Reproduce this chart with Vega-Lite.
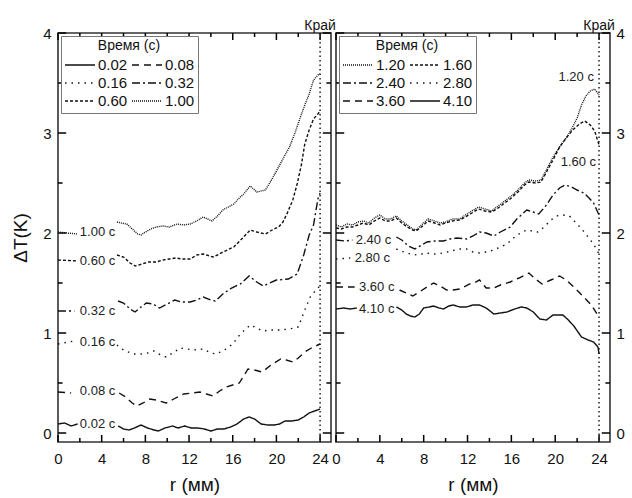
{
"$schema": "https://vega.github.io/schema/vega-lite/v6.json",
"padding": {"left": 10, "top": 18, "right": 3, "bottom": 5},
"background": "white",
"config": {
  "font": "Liberation Sans",
  "view": {"stroke": "#333", "strokeWidth": 1.6},
  "axis": {"domain": false, "grid": false, "ticks": false, "labelColor": "#111", "titleColor": "#111", "labelFontSize": 15, "titleFontSize": 19, "titleFontWeight": "normal", "labelFont": "Liberation Sans", "titleFont": "Liberation Sans", "labelFlush": false, "labelOverlap": false, "format": "d"},
  "legend": {"orient": "top-left", "offset": 3, "padding": 3, "strokeColor": "#777", "fillColor": "white", "columns": 2, "columnPadding": 3, "rowPadding": 0, "symbolType": "stroke", "symbolSize": 900, "symbolStrokeWidth": 1.3, "symbolStrokeColor": "#111", "clipHeight": 18, "labelFontSize": 15, "labelColor": "#111", "titleFontSize": 14, "titleFontWeight": "normal", "titleColor": "#111", "titleAnchor": "middle", "titlePadding": 3, "labelOffset": 2, "labelFont": "Liberation Sans", "titleFont": "Liberation Sans"}
},
"datasets": {
  "xmaj": [{"v": 0}, {"v": 4}, {"v": 8}, {"v": 12}, {"v": 16}, {"v": 20}, {"v": 24}],
  "xmin": [{"v": 2}, {"v": 6}, {"v": 10}, {"v": 14}, {"v": 18}, {"v": 22}],
  "ymaj": [{"v": 0}, {"v": 1}, {"v": 2}, {"v": 3}, {"v": 4}],
  "ymin": [{"v": 0.5}, {"v": 1.5}, {"v": 2.5}, {"v": 3.5}],
  "edge": [{"r": 24, "T": 4, "txt": "Край"}],
  "labels": [
    {"p": "L", "r": 2.0, "T": 2.01, "txt": "1.00 с"},
    {"p": "L", "r": 2.0, "T": 1.72, "txt": "0.60 с"},
    {"p": "L", "r": 2.0, "T": 1.22, "txt": "0.32 с"},
    {"p": "L", "r": 2.0, "T": 0.91, "txt": "0.16 с"},
    {"p": "L", "r": 2.0, "T": 0.42, "txt": "0.08 с"},
    {"p": "L", "r": 2.0, "T": 0.09, "txt": "0.02 с"},
    {"p": "R", "r": 1.8, "T": 1.93, "txt": "2.40 с"},
    {"p": "R", "r": 1.7, "T": 1.75, "txt": "2.80 с"},
    {"p": "R", "r": 2.1, "T": 1.46, "txt": "3.60 с"},
    {"p": "R", "r": 2.1, "T": 1.24, "txt": "4.10 с"},
    {"p": "R", "r": 20.3, "T": 3.56, "txt": "1.20 с"},
    {"p": "R", "r": 20.5, "T": 2.71, "txt": "1.60 с"}
  ],
  "lines": [
    {"p":"L","t":"0.02","g":"a","r":0,"T":0.09},{"p":"L","t":"0.02","g":"a","r":0.6,"T":0.10},{"p":"L","t":"0.02","g":"a","r":1.2,"T":0.07},{"p":"L","t":"0.02","g":"a","r":1.8,"T":0.09},
    {"p":"L","t":"0.02","g":"b","r":5.5,"T":0.07},{"p":"L","t":"0.02","g":"b","r":6.0,"T":0.04},{"p":"L","t":"0.02","g":"b","r":6.5,"T":0.03},{"p":"L","t":"0.02","g":"b","r":7.0,"T":0.05},{"p":"L","t":"0.02","g":"b","r":7.6,"T":0.08},{"p":"L","t":"0.02","g":"b","r":8.2,"T":0.05},{"p":"L","t":"0.02","g":"b","r":8.8,"T":0.03},{"p":"L","t":"0.02","g":"b","r":9.2,"T":0.02},{"p":"L","t":"0.02","g":"b","r":9.8,"T":0.05},{"p":"L","t":"0.02","g":"b","r":10.5,"T":0.07},{"p":"L","t":"0.02","g":"b","r":11.0,"T":0.05},{"p":"L","t":"0.02","g":"b","r":11.6,"T":0.07},{"p":"L","t":"0.02","g":"b","r":12.2,"T":0.05},{"p":"L","t":"0.02","g":"b","r":12.8,"T":0.05},{"p":"L","t":"0.02","g":"b","r":13.4,"T":0.04},{"p":"L","t":"0.02","g":"b","r":14.0,"T":0.02},{"p":"L","t":"0.02","g":"b","r":14.6,"T":0.04},{"p":"L","t":"0.02","g":"b","r":15.2,"T":0.04},{"p":"L","t":"0.02","g":"b","r":15.8,"T":0.06},{"p":"L","t":"0.02","g":"b","r":16.4,"T":0.09},{"p":"L","t":"0.02","g":"b","r":17.0,"T":0.14},{"p":"L","t":"0.02","g":"b","r":17.5,"T":0.16},{"p":"L","t":"0.02","g":"b","r":18.0,"T":0.14},{"p":"L","t":"0.02","g":"b","r":18.6,"T":0.09},{"p":"L","t":"0.02","g":"b","r":19.2,"T":0.08},{"p":"L","t":"0.02","g":"b","r":19.8,"T":0.08},{"p":"L","t":"0.02","g":"b","r":20.3,"T":0.09},{"p":"L","t":"0.02","g":"b","r":20.8,"T":0.12},{"p":"L","t":"0.02","g":"b","r":21.4,"T":0.12},{"p":"L","t":"0.02","g":"b","r":22.0,"T":0.13},{"p":"L","t":"0.02","g":"b","r":22.5,"T":0.16},{"p":"L","t":"0.02","g":"b","r":23.0,"T":0.20},{"p":"L","t":"0.02","g":"b","r":23.5,"T":0.22},{"p":"L","t":"0.02","g":"b","r":24.0,"T":0.24},

    {"p":"L","t":"0.08","g":"a","r":0,"T":0.41},{"p":"L","t":"0.08","g":"a","r":1.2,"T":0.40},
    {"p":"L","t":"0.08","g":"b","r":5.6,"T":0.40},{"p":"L","t":"0.08","g":"b","r":6.2,"T":0.36},{"p":"L","t":"0.08","g":"b","r":6.8,"T":0.30},{"p":"L","t":"0.08","g":"b","r":7.2,"T":0.27},{"p":"L","t":"0.08","g":"b","r":7.8,"T":0.30},{"p":"L","t":"0.08","g":"b","r":8.4,"T":0.34},{"p":"L","t":"0.08","g":"b","r":9.0,"T":0.33},{"p":"L","t":"0.08","g":"b","r":9.9,"T":0.30},{"p":"L","t":"0.08","g":"b","r":10.6,"T":0.34},{"p":"L","t":"0.08","g":"b","r":11.5,"T":0.39},{"p":"L","t":"0.08","g":"b","r":12.3,"T":0.40},{"p":"L","t":"0.08","g":"b","r":13.0,"T":0.41},{"p":"L","t":"0.08","g":"b","r":13.6,"T":0.39},{"p":"L","t":"0.08","g":"b","r":14.2,"T":0.37},{"p":"L","t":"0.08","g":"b","r":14.8,"T":0.42},{"p":"L","t":"0.08","g":"b","r":15.4,"T":0.46},{"p":"L","t":"0.08","g":"b","r":16.0,"T":0.48},{"p":"L","t":"0.08","g":"b","r":16.6,"T":0.50},{"p":"L","t":"0.08","g":"b","r":17.0,"T":0.57},{"p":"L","t":"0.08","g":"b","r":17.4,"T":0.64},{"p":"L","t":"0.08","g":"b","r":18.0,"T":0.63},{"p":"L","t":"0.08","g":"b","r":18.7,"T":0.61},{"p":"L","t":"0.08","g":"b","r":19.5,"T":0.68},{"p":"L","t":"0.08","g":"b","r":20.4,"T":0.74},{"p":"L","t":"0.08","g":"b","r":20.9,"T":0.73},{"p":"L","t":"0.08","g":"b","r":21.5,"T":0.71},{"p":"L","t":"0.08","g":"b","r":22.0,"T":0.75},{"p":"L","t":"0.08","g":"b","r":22.6,"T":0.81},{"p":"L","t":"0.08","g":"b","r":23.2,"T":0.85},{"p":"L","t":"0.08","g":"b","r":24.0,"T":0.89},

    {"p":"L","t":"0.16","g":"a","r":0,"T":0.89},{"p":"L","t":"0.16","g":"a","r":1.5,"T":0.92},
    {"p":"L","t":"0.16","g":"b","r":5.4,"T":0.88},{"p":"L","t":"0.16","g":"b","r":6.0,"T":0.83},{"p":"L","t":"0.16","g":"b","r":6.9,"T":0.79},{"p":"L","t":"0.16","g":"b","r":7.6,"T":0.79},{"p":"L","t":"0.16","g":"b","r":8.2,"T":0.80},{"p":"L","t":"0.16","g":"b","r":8.8,"T":0.82},{"p":"L","t":"0.16","g":"b","r":9.4,"T":0.78},{"p":"L","t":"0.16","g":"b","r":9.9,"T":0.76},{"p":"L","t":"0.16","g":"b","r":10.5,"T":0.80},{"p":"L","t":"0.16","g":"b","r":11.2,"T":0.85},{"p":"L","t":"0.16","g":"b","r":11.8,"T":0.84},{"p":"L","t":"0.16","g":"b","r":12.4,"T":0.83},{"p":"L","t":"0.16","g":"b","r":13.3,"T":0.84},{"p":"L","t":"0.16","g":"b","r":14.0,"T":0.80},{"p":"L","t":"0.16","g":"b","r":14.5,"T":0.79},{"p":"L","t":"0.16","g":"b","r":15.4,"T":0.84},{"p":"L","t":"0.16","g":"b","r":16.0,"T":0.89},{"p":"L","t":"0.16","g":"b","r":16.7,"T":0.99},{"p":"L","t":"0.16","g":"b","r":17.6,"T":1.08},{"p":"L","t":"0.16","g":"b","r":18.2,"T":1.05},{"p":"L","t":"0.16","g":"b","r":18.7,"T":1.02},{"p":"L","t":"0.16","g":"b","r":19.5,"T":1.03},{"p":"L","t":"0.16","g":"b","r":20.3,"T":1.03},{"p":"L","t":"0.16","g":"b","r":21.2,"T":1.04},{"p":"L","t":"0.16","g":"b","r":22.0,"T":1.06},{"p":"L","t":"0.16","g":"b","r":22.6,"T":1.23},{"p":"L","t":"0.16","g":"b","r":23.1,"T":1.36},{"p":"L","t":"0.16","g":"b","r":23.7,"T":1.44},{"p":"L","t":"0.16","g":"b","r":24.0,"T":1.47},

    {"p":"L","t":"0.32","g":"a","r":0,"T":1.22},{"p":"L","t":"0.32","g":"a","r":1.5,"T":1.22},
    {"p":"L","t":"0.32","g":"b","r":5.5,"T":1.32},{"p":"L","t":"0.32","g":"b","r":6.0,"T":1.30},{"p":"L","t":"0.32","g":"b","r":6.6,"T":1.24},{"p":"L","t":"0.32","g":"b","r":7.05,"T":1.21},{"p":"L","t":"0.32","g":"b","r":7.6,"T":1.26},{"p":"L","t":"0.32","g":"b","r":8.1,"T":1.30},{"p":"L","t":"0.32","g":"b","r":8.7,"T":1.29},{"p":"L","t":"0.32","g":"b","r":9.3,"T":1.25},{"p":"L","t":"0.32","g":"b","r":10.0,"T":1.29},{"p":"L","t":"0.32","g":"b","r":10.7,"T":1.33},{"p":"L","t":"0.32","g":"b","r":11.3,"T":1.31},{"p":"L","t":"0.32","g":"b","r":12.1,"T":1.31},{"p":"L","t":"0.32","g":"b","r":12.7,"T":1.33},{"p":"L","t":"0.32","g":"b","r":13.3,"T":1.36},{"p":"L","t":"0.32","g":"b","r":14.0,"T":1.33},{"p":"L","t":"0.32","g":"b","r":14.4,"T":1.32},{"p":"L","t":"0.32","g":"b","r":15.1,"T":1.39},{"p":"L","t":"0.32","g":"b","r":15.9,"T":1.45},{"p":"L","t":"0.32","g":"b","r":16.7,"T":1.49},{"p":"L","t":"0.32","g":"b","r":17.5,"T":1.57},{"p":"L","t":"0.32","g":"b","r":18.2,"T":1.51},{"p":"L","t":"0.32","g":"b","r":18.8,"T":1.47},{"p":"L","t":"0.32","g":"b","r":19.4,"T":1.50},{"p":"L","t":"0.32","g":"b","r":20.0,"T":1.53},{"p":"L","t":"0.32","g":"b","r":21.1,"T":1.54},{"p":"L","t":"0.32","g":"b","r":21.9,"T":1.59},{"p":"L","t":"0.32","g":"b","r":22.5,"T":1.78},{"p":"L","t":"0.32","g":"b","r":23.0,"T":1.98},{"p":"L","t":"0.32","g":"b","r":23.4,"T":2.08},{"p":"L","t":"0.32","g":"b","r":23.8,"T":2.34},{"p":"L","t":"0.32","g":"b","r":24.0,"T":2.40},

    {"p":"L","t":"0.60","g":"a","r":0,"T":1.73},{"p":"L","t":"0.60","g":"a","r":1.8,"T":1.72},
    {"p":"L","t":"0.60","g":"b","r":5.4,"T":1.78},{"p":"L","t":"0.60","g":"b","r":6.0,"T":1.76},{"p":"L","t":"0.60","g":"b","r":6.6,"T":1.70},{"p":"L","t":"0.60","g":"b","r":7.1,"T":1.67},{"p":"L","t":"0.60","g":"b","r":7.7,"T":1.69},{"p":"L","t":"0.60","g":"b","r":8.3,"T":1.71},{"p":"L","t":"0.60","g":"b","r":9.0,"T":1.71},{"p":"L","t":"0.60","g":"b","r":9.6,"T":1.73},{"p":"L","t":"0.60","g":"b","r":10.2,"T":1.74},{"p":"L","t":"0.60","g":"b","r":10.8,"T":1.75},{"p":"L","t":"0.60","g":"b","r":11.4,"T":1.74},{"p":"L","t":"0.60","g":"b","r":12.1,"T":1.74},{"p":"L","t":"0.60","g":"b","r":12.7,"T":1.78},{"p":"L","t":"0.60","g":"b","r":13.3,"T":1.79},{"p":"L","t":"0.60","g":"b","r":14.2,"T":1.76},{"p":"L","t":"0.60","g":"b","r":14.6,"T":1.78},{"p":"L","t":"0.60","g":"b","r":15.1,"T":1.81},{"p":"L","t":"0.60","g":"b","r":16.1,"T":1.86},{"p":"L","t":"0.60","g":"b","r":17.0,"T":1.96},{"p":"L","t":"0.60","g":"b","r":17.6,"T":2.03},{"p":"L","t":"0.60","g":"b","r":18.2,"T":2.01},{"p":"L","t":"0.60","g":"b","r":19.0,"T":1.99},{"p":"L","t":"0.60","g":"b","r":19.6,"T":2.03},{"p":"L","t":"0.60","g":"b","r":20.2,"T":2.06},{"p":"L","t":"0.60","g":"b","r":20.6,"T":2.11},{"p":"L","t":"0.60","g":"b","r":21.0,"T":2.20},{"p":"L","t":"0.60","g":"b","r":21.5,"T":2.33},{"p":"L","t":"0.60","g":"b","r":21.9,"T":2.49},{"p":"L","t":"0.60","g":"b","r":22.3,"T":2.69},{"p":"L","t":"0.60","g":"b","r":22.6,"T":2.89},{"p":"L","t":"0.60","g":"b","r":23.0,"T":3.03},{"p":"L","t":"0.60","g":"b","r":23.4,"T":3.14},{"p":"L","t":"0.60","g":"b","r":23.8,"T":3.19},{"p":"L","t":"0.60","g":"b","r":24.0,"T":3.22},

    {"p":"L","t":"1.00","g":"a","r":0,"T":2.01},{"p":"L","t":"1.00","g":"a","r":0.8,"T":2.00},{"p":"L","t":"1.00","g":"a","r":1.8,"T":1.99},
    {"p":"L","t":"1.00","g":"b","r":5.4,"T":2.11},{"p":"L","t":"1.00","g":"b","r":5.8,"T":2.10},{"p":"L","t":"1.00","g":"b","r":6.3,"T":2.09},{"p":"L","t":"1.00","g":"b","r":6.8,"T":2.04},{"p":"L","t":"1.00","g":"b","r":7.3,"T":1.99},{"p":"L","t":"1.00","g":"b","r":7.6,"T":1.98},{"p":"L","t":"1.00","g":"b","r":8.0,"T":2.01},{"p":"L","t":"1.00","g":"b","r":8.5,"T":2.04},{"p":"L","t":"1.00","g":"b","r":9.0,"T":2.06},{"p":"L","t":"1.00","g":"b","r":9.6,"T":2.07},{"p":"L","t":"1.00","g":"b","r":10.2,"T":2.06},{"p":"L","t":"1.00","g":"b","r":10.9,"T":2.09},{"p":"L","t":"1.00","g":"b","r":11.5,"T":2.08},{"p":"L","t":"1.00","g":"b","r":12.1,"T":2.09},{"p":"L","t":"1.00","g":"b","r":12.7,"T":2.12},{"p":"L","t":"1.00","g":"b","r":13.3,"T":2.16},{"p":"L","t":"1.00","g":"b","r":13.7,"T":2.14},{"p":"L","t":"1.00","g":"b","r":14.1,"T":2.12},{"p":"L","t":"1.00","g":"b","r":14.6,"T":2.17},{"p":"L","t":"1.00","g":"b","r":15.1,"T":2.23},{"p":"L","t":"1.00","g":"b","r":15.6,"T":2.26},{"p":"L","t":"1.00","g":"b","r":16.1,"T":2.29},{"p":"L","t":"1.00","g":"b","r":16.6,"T":2.35},{"p":"L","t":"1.00","g":"b","r":17.0,"T":2.39},{"p":"L","t":"1.00","g":"b","r":17.6,"T":2.47},{"p":"L","t":"1.00","g":"b","r":18.2,"T":2.41},{"p":"L","t":"1.00","g":"b","r":19.0,"T":2.43},{"p":"L","t":"1.00","g":"b","r":19.6,"T":2.54},{"p":"L","t":"1.00","g":"b","r":20.2,"T":2.66},{"p":"L","t":"1.00","g":"b","r":20.7,"T":2.76},{"p":"L","t":"1.00","g":"b","r":21.2,"T":2.86},{"p":"L","t":"1.00","g":"b","r":21.7,"T":3.00},{"p":"L","t":"1.00","g":"b","r":22.2,"T":3.16},{"p":"L","t":"1.00","g":"b","r":22.6,"T":3.28},{"p":"L","t":"1.00","g":"b","r":23.0,"T":3.39},{"p":"L","t":"1.00","g":"b","r":23.4,"T":3.53},{"p":"L","t":"1.00","g":"b","r":23.8,"T":3.58},{"p":"L","t":"1.00","g":"b","r":24.0,"T":3.59},

    {"p":"R","t":"1.20","g":"a","r":0,"T":2.08},{"p":"R","t":"1.20","g":"a","r":0.5,"T":2.06},{"p":"R","t":"1.20","g":"a","r":1.0,"T":2.09},{"p":"R","t":"1.20","g":"a","r":1.5,"T":2.08},{"p":"R","t":"1.20","g":"a","r":2.0,"T":2.11},{"p":"R","t":"1.20","g":"a","r":2.5,"T":2.12},{"p":"R","t":"1.20","g":"a","r":3.0,"T":2.10},{"p":"R","t":"1.20","g":"a","r":3.5,"T":2.15},{"p":"R","t":"1.20","g":"a","r":4.0,"T":2.18},{"p":"R","t":"1.20","g":"a","r":4.5,"T":2.14},{"p":"R","t":"1.20","g":"a","r":5.0,"T":2.14},{"p":"R","t":"1.20","g":"a","r":5.5,"T":2.17},{"p":"R","t":"1.20","g":"a","r":6.0,"T":2.12},{"p":"R","t":"1.20","g":"a","r":6.5,"T":2.08},{"p":"R","t":"1.20","g":"a","r":7.0,"T":2.04},{"p":"R","t":"1.20","g":"a","r":7.3,"T":2.03},{"p":"R","t":"1.20","g":"a","r":7.8,"T":2.08},{"p":"R","t":"1.20","g":"a","r":8.4,"T":2.14},{"p":"R","t":"1.20","g":"a","r":9.0,"T":2.12},{"p":"R","t":"1.20","g":"a","r":9.5,"T":2.10},{"p":"R","t":"1.20","g":"a","r":10.0,"T":2.11},{"p":"R","t":"1.20","g":"a","r":10.6,"T":2.14},{"p":"R","t":"1.20","g":"a","r":11.3,"T":2.14},{"p":"R","t":"1.20","g":"a","r":11.8,"T":2.18},{"p":"R","t":"1.20","g":"a","r":12.4,"T":2.22},{"p":"R","t":"1.20","g":"a","r":13.0,"T":2.26},{"p":"R","t":"1.20","g":"a","r":13.6,"T":2.24},{"p":"R","t":"1.20","g":"a","r":14.2,"T":2.22},{"p":"R","t":"1.20","g":"a","r":14.8,"T":2.27},{"p":"R","t":"1.20","g":"a","r":15.4,"T":2.32},{"p":"R","t":"1.20","g":"a","r":16.0,"T":2.37},{"p":"R","t":"1.20","g":"a","r":16.6,"T":2.43},{"p":"R","t":"1.20","g":"a","r":17.2,"T":2.50},{"p":"R","t":"1.20","g":"a","r":17.6,"T":2.53},{"p":"R","t":"1.20","g":"a","r":18.2,"T":2.52},{"p":"R","t":"1.20","g":"a","r":18.7,"T":2.53},{"p":"R","t":"1.20","g":"a","r":19.2,"T":2.63},{"p":"R","t":"1.20","g":"a","r":19.8,"T":2.76},{"p":"R","t":"1.20","g":"a","r":20.4,"T":2.86},{"p":"R","t":"1.20","g":"a","r":21.0,"T":2.95},{"p":"R","t":"1.20","g":"a","r":21.5,"T":3.04},{"p":"R","t":"1.20","g":"a","r":22.0,"T":3.15},{"p":"R","t":"1.20","g":"a","r":22.4,"T":3.28},{"p":"R","t":"1.20","g":"a","r":22.8,"T":3.37},{"p":"R","t":"1.20","g":"a","r":23.2,"T":3.42},{"p":"R","t":"1.20","g":"a","r":23.6,"T":3.44},{"p":"R","t":"1.20","g":"a","r":24.0,"T":3.38},

    {"p":"R","t":"1.60","g":"a","r":0,"T":2.05},{"p":"R","t":"1.60","g":"a","r":0.5,"T":2.04},{"p":"R","t":"1.60","g":"a","r":1.0,"T":2.06},{"p":"R","t":"1.60","g":"a","r":1.5,"T":2.06},{"p":"R","t":"1.60","g":"a","r":2.0,"T":2.08},{"p":"R","t":"1.60","g":"a","r":2.5,"T":2.10},{"p":"R","t":"1.60","g":"a","r":3.0,"T":2.08},{"p":"R","t":"1.60","g":"a","r":3.5,"T":2.12},{"p":"R","t":"1.60","g":"a","r":4.0,"T":2.15},{"p":"R","t":"1.60","g":"a","r":4.5,"T":2.12},{"p":"R","t":"1.60","g":"a","r":5.0,"T":2.12},{"p":"R","t":"1.60","g":"a","r":5.5,"T":2.15},{"p":"R","t":"1.60","g":"a","r":6.0,"T":2.10},{"p":"R","t":"1.60","g":"a","r":6.5,"T":2.06},{"p":"R","t":"1.60","g":"a","r":7.0,"T":2.03},{"p":"R","t":"1.60","g":"a","r":7.3,"T":2.02},{"p":"R","t":"1.60","g":"a","r":7.8,"T":2.06},{"p":"R","t":"1.60","g":"a","r":8.4,"T":2.12},{"p":"R","t":"1.60","g":"a","r":9.0,"T":2.10},{"p":"R","t":"1.60","g":"a","r":9.5,"T":2.08},{"p":"R","t":"1.60","g":"a","r":10.0,"T":2.10},{"p":"R","t":"1.60","g":"a","r":10.6,"T":2.12},{"p":"R","t":"1.60","g":"a","r":11.3,"T":2.13},{"p":"R","t":"1.60","g":"a","r":11.8,"T":2.16},{"p":"R","t":"1.60","g":"a","r":12.4,"T":2.20},{"p":"R","t":"1.60","g":"a","r":13.0,"T":2.24},{"p":"R","t":"1.60","g":"a","r":13.6,"T":2.22},{"p":"R","t":"1.60","g":"a","r":14.2,"T":2.21},{"p":"R","t":"1.60","g":"a","r":14.8,"T":2.25},{"p":"R","t":"1.60","g":"a","r":15.4,"T":2.30},{"p":"R","t":"1.60","g":"a","r":16.0,"T":2.35},{"p":"R","t":"1.60","g":"a","r":16.6,"T":2.41},{"p":"R","t":"1.60","g":"a","r":17.2,"T":2.48},{"p":"R","t":"1.60","g":"a","r":17.6,"T":2.51},{"p":"R","t":"1.60","g":"a","r":18.2,"T":2.50},{"p":"R","t":"1.60","g":"a","r":18.7,"T":2.51},{"p":"R","t":"1.60","g":"a","r":19.2,"T":2.61},{"p":"R","t":"1.60","g":"a","r":19.8,"T":2.73},{"p":"R","t":"1.60","g":"a","r":20.4,"T":2.86},{"p":"R","t":"1.60","g":"a","r":21.0,"T":2.95},{"p":"R","t":"1.60","g":"a","r":21.6,"T":3.03},{"p":"R","t":"1.60","g":"a","r":22.2,"T":3.09},{"p":"R","t":"1.60","g":"a","r":22.7,"T":3.12},{"p":"R","t":"1.60","g":"a","r":23.2,"T":3.08},{"p":"R","t":"1.60","g":"a","r":23.6,"T":3.02},{"p":"R","t":"1.60","g":"a","r":24.0,"T":2.88},

    {"p":"R","t":"2.40","g":"a","r":0,"T":1.93},{"p":"R","t":"2.40","g":"a","r":0.8,"T":1.92},{"p":"R","t":"2.40","g":"a","r":1.5,"T":1.93},
    {"p":"R","t":"2.40","g":"b","r":5.5,"T":1.96},{"p":"R","t":"2.40","g":"b","r":6.0,"T":1.93},{"p":"R","t":"2.40","g":"b","r":6.6,"T":1.87},{"p":"R","t":"2.40","g":"b","r":7.2,"T":1.84},{"p":"R","t":"2.40","g":"b","r":7.8,"T":1.88},{"p":"R","t":"2.40","g":"b","r":8.3,"T":1.91},{"p":"R","t":"2.40","g":"b","r":9.0,"T":1.92},{"p":"R","t":"2.40","g":"b","r":9.8,"T":1.92},{"p":"R","t":"2.40","g":"b","r":10.4,"T":1.94},{"p":"R","t":"2.40","g":"b","r":11.0,"T":1.95},{"p":"R","t":"2.40","g":"b","r":11.9,"T":1.94},{"p":"R","t":"2.40","g":"b","r":12.5,"T":1.97},{"p":"R","t":"2.40","g":"b","r":13.1,"T":2.01},{"p":"R","t":"2.40","g":"b","r":13.7,"T":2.00},{"p":"R","t":"2.40","g":"b","r":14.4,"T":1.97},{"p":"R","t":"2.40","g":"b","r":15.0,"T":2.01},{"p":"R","t":"2.40","g":"b","r":15.9,"T":2.06},{"p":"R","t":"2.40","g":"b","r":16.5,"T":2.14},{"p":"R","t":"2.40","g":"b","r":17.4,"T":2.23},{"p":"R","t":"2.40","g":"b","r":18.0,"T":2.21},{"p":"R","t":"2.40","g":"b","r":18.5,"T":2.19},{"p":"R","t":"2.40","g":"b","r":19.2,"T":2.28},{"p":"R","t":"2.40","g":"b","r":19.8,"T":2.38},{"p":"R","t":"2.40","g":"b","r":20.4,"T":2.45},{"p":"R","t":"2.40","g":"b","r":20.9,"T":2.48},{"p":"R","t":"2.40","g":"b","r":21.5,"T":2.46},{"p":"R","t":"2.40","g":"b","r":22.0,"T":2.43},{"p":"R","t":"2.40","g":"b","r":22.6,"T":2.40},{"p":"R","t":"2.40","g":"b","r":23.0,"T":2.36},{"p":"R","t":"2.40","g":"b","r":23.5,"T":2.30},{"p":"R","t":"2.40","g":"b","r":24.0,"T":2.18},

    {"p":"R","t":"2.80","g":"a","r":0,"T":1.74},{"p":"R","t":"2.80","g":"a","r":1.3,"T":1.75},
    {"p":"R","t":"2.80","g":"b","r":5.5,"T":1.84},{"p":"R","t":"2.80","g":"b","r":6.2,"T":1.81},{"p":"R","t":"2.80","g":"b","r":6.8,"T":1.79},{"p":"R","t":"2.80","g":"b","r":7.4,"T":1.78},{"p":"R","t":"2.80","g":"b","r":8.2,"T":1.80},{"p":"R","t":"2.80","g":"b","r":9.0,"T":1.79},{"p":"R","t":"2.80","g":"b","r":9.8,"T":1.80},{"p":"R","t":"2.80","g":"b","r":10.5,"T":1.82},{"p":"R","t":"2.80","g":"b","r":11.2,"T":1.84},{"p":"R","t":"2.80","g":"b","r":11.9,"T":1.84},{"p":"R","t":"2.80","g":"b","r":12.5,"T":1.81},{"p":"R","t":"2.80","g":"b","r":13.1,"T":1.80},{"p":"R","t":"2.80","g":"b","r":13.7,"T":1.81},{"p":"R","t":"2.80","g":"b","r":14.4,"T":1.83},{"p":"R","t":"2.80","g":"b","r":15.0,"T":1.86},{"p":"R","t":"2.80","g":"b","r":15.6,"T":1.89},{"p":"R","t":"2.80","g":"b","r":16.5,"T":1.98},{"p":"R","t":"2.80","g":"b","r":17.4,"T":2.03},{"p":"R","t":"2.80","g":"b","r":18.4,"T":2.01},{"p":"R","t":"2.80","g":"b","r":19.0,"T":2.06},{"p":"R","t":"2.80","g":"b","r":19.5,"T":2.12},{"p":"R","t":"2.80","g":"b","r":20.1,"T":2.17},{"p":"R","t":"2.80","g":"b","r":20.7,"T":2.18},{"p":"R","t":"2.80","g":"b","r":21.3,"T":2.17},{"p":"R","t":"2.80","g":"b","r":22.0,"T":2.09},{"p":"R","t":"2.80","g":"b","r":22.5,"T":2.03},{"p":"R","t":"2.80","g":"b","r":23.0,"T":1.96},{"p":"R","t":"2.80","g":"b","r":23.5,"T":1.89},{"p":"R","t":"2.80","g":"b","r":24.0,"T":1.79},

    {"p":"R","t":"3.60","g":"a","r":0,"T":1.46},{"p":"R","t":"3.60","g":"a","r":1.7,"T":1.46},
    {"p":"R","t":"3.60","g":"b","r":5.8,"T":1.43},{"p":"R","t":"3.60","g":"b","r":6.4,"T":1.40},{"p":"R","t":"3.60","g":"b","r":7.0,"T":1.37},{"p":"R","t":"3.60","g":"b","r":7.6,"T":1.41},{"p":"R","t":"3.60","g":"b","r":8.3,"T":1.46},{"p":"R","t":"3.60","g":"b","r":8.9,"T":1.50},{"p":"R","t":"3.60","g":"b","r":9.5,"T":1.47},{"p":"R","t":"3.60","g":"b","r":10.1,"T":1.43},{"p":"R","t":"3.60","g":"b","r":10.7,"T":1.43},{"p":"R","t":"3.60","g":"b","r":11.3,"T":1.44},{"p":"R","t":"3.60","g":"b","r":12.2,"T":1.49},{"p":"R","t":"3.60","g":"b","r":12.6,"T":1.50},{"p":"R","t":"3.60","g":"b","r":13.1,"T":1.53},{"p":"R","t":"3.60","g":"b","r":13.7,"T":1.45},{"p":"R","t":"3.60","g":"b","r":14.4,"T":1.45},{"p":"R","t":"3.60","g":"b","r":15.0,"T":1.48},{"p":"R","t":"3.60","g":"b","r":15.9,"T":1.51},{"p":"R","t":"3.60","g":"b","r":16.7,"T":1.55},{"p":"R","t":"3.60","g":"b","r":17.6,"T":1.60},{"p":"R","t":"3.60","g":"b","r":18.2,"T":1.54},{"p":"R","t":"3.60","g":"b","r":18.8,"T":1.49},{"p":"R","t":"3.60","g":"b","r":19.6,"T":1.53},{"p":"R","t":"3.60","g":"b","r":20.4,"T":1.57},{"p":"R","t":"3.60","g":"b","r":21.0,"T":1.53},{"p":"R","t":"3.60","g":"b","r":21.7,"T":1.46},{"p":"R","t":"3.60","g":"b","r":22.6,"T":1.36},{"p":"R","t":"3.60","g":"b","r":23.3,"T":1.28},{"p":"R","t":"3.60","g":"b","r":24.0,"T":1.16},

    {"p":"R","t":"4.10","g":"a","r":0,"T":1.24},{"p":"R","t":"4.10","g":"a","r":0.7,"T":1.25},{"p":"R","t":"4.10","g":"a","r":1.3,"T":1.24},{"p":"R","t":"4.10","g":"a","r":1.9,"T":1.25},
    {"p":"R","t":"4.10","g":"b","r":5.5,"T":1.26},{"p":"R","t":"4.10","g":"b","r":6.0,"T":1.23},{"p":"R","t":"4.10","g":"b","r":6.4,"T":1.19},{"p":"R","t":"4.10","g":"b","r":6.8,"T":1.17},{"p":"R","t":"4.10","g":"b","r":7.2,"T":1.16},{"p":"R","t":"4.10","g":"b","r":7.6,"T":1.19},{"p":"R","t":"4.10","g":"b","r":8.0,"T":1.25},{"p":"R","t":"4.10","g":"b","r":8.5,"T":1.26},{"p":"R","t":"4.10","g":"b","r":8.9,"T":1.27},{"p":"R","t":"4.10","g":"b","r":9.4,"T":1.25},{"p":"R","t":"4.10","g":"b","r":9.8,"T":1.24},{"p":"R","t":"4.10","g":"b","r":10.3,"T":1.27},{"p":"R","t":"4.10","g":"b","r":10.7,"T":1.28},{"p":"R","t":"4.10","g":"b","r":11.3,"T":1.26},{"p":"R","t":"4.10","g":"b","r":11.9,"T":1.26},{"p":"R","t":"4.10","g":"b","r":12.5,"T":1.28},{"p":"R","t":"4.10","g":"b","r":13.1,"T":1.28},{"p":"R","t":"4.10","g":"b","r":13.7,"T":1.25},{"p":"R","t":"4.10","g":"b","r":14.4,"T":1.19},{"p":"R","t":"4.10","g":"b","r":15.0,"T":1.20},{"p":"R","t":"4.10","g":"b","r":15.6,"T":1.21},{"p":"R","t":"4.10","g":"b","r":16.3,"T":1.24},{"p":"R","t":"4.10","g":"b","r":16.9,"T":1.26},{"p":"R","t":"4.10","g":"b","r":17.4,"T":1.25},{"p":"R","t":"4.10","g":"b","r":18.0,"T":1.21},{"p":"R","t":"4.10","g":"b","r":18.6,"T":1.14},{"p":"R","t":"4.10","g":"b","r":19.2,"T":1.13},{"p":"R","t":"4.10","g":"b","r":19.8,"T":1.18},{"p":"R","t":"4.10","g":"b","r":20.7,"T":1.18},{"p":"R","t":"4.10","g":"b","r":21.2,"T":1.13},{"p":"R","t":"4.10","g":"b","r":21.7,"T":1.07},{"p":"R","t":"4.10","g":"b","r":22.4,"T":0.96},{"p":"R","t":"4.10","g":"b","r":23.0,"T":0.93},{"p":"R","t":"4.10","g":"b","r":23.5,"T":0.91},{"p":"R","t":"4.10","g":"b","r":23.9,"T":0.86},{"p":"R","t":"4.10","g":"b","r":24.0,"T":0.79}
  ]
},
"spacing": 5,
"bounds": "flush",
"hconcat": [
  {
    "width": 273, "height": 409,
    "layer": [
      {"data": {"name": "xmaj"}, "mark": {"type": "rule", "color": "#000", "strokeWidth": 1.5}, "encoding": {"x": {"field": "v", "type": "quantitative", "scale": {"domain": [0, 25], "nice": false}, "axis": null}, "y": {"datum": -0.09, "type": "quantitative", "scale": {"domain": [-0.09, 4], "nice": false, "zero": false}, "axis": null}, "y2": {"datum": -0.02}}},
      {"data": {"name": "xmin"}, "mark": {"type": "rule", "color": "#000", "strokeWidth": 1.5}, "encoding": {"x": {"field": "v", "type": "quantitative", "axis": null}, "y": {"datum": -0.09, "type": "quantitative", "axis": null}, "y2": {"datum": -0.05}}},
      {"data": {"name": "xmaj"}, "mark": {"type": "rule", "color": "#000", "strokeWidth": 1.5}, "encoding": {"x": {"field": "v", "type": "quantitative", "axis": null}, "y": {"datum": 4, "type": "quantitative", "axis": null}, "y2": {"datum": 3.93}}},
      {"data": {"name": "xmin"}, "mark": {"type": "rule", "color": "#000", "strokeWidth": 1.5}, "encoding": {"x": {"field": "v", "type": "quantitative", "axis": null}, "y": {"datum": 4, "type": "quantitative", "axis": null}, "y2": {"datum": 3.96}}},
      {"data": {"name": "ymaj"}, "mark": {"type": "rule", "color": "#000", "strokeWidth": 1.5}, "encoding": {"y": {"field": "v", "type": "quantitative", "axis": null}, "x": {"datum": 0, "type": "quantitative", "axis": null}, "x2": {"datum": 0.75}}},
      {"data": {"name": "ymin"}, "mark": {"type": "rule", "color": "#000", "strokeWidth": 1.5}, "encoding": {"y": {"field": "v", "type": "quantitative", "axis": null}, "x": {"datum": 0, "type": "quantitative", "axis": null}, "x2": {"datum": 0.42}}},
      {"data": {"name": "ymaj"}, "mark": {"type": "rule", "color": "#000", "strokeWidth": 1.5}, "encoding": {"y": {"field": "v", "type": "quantitative", "axis": null}, "x": {"datum": 25, "type": "quantitative", "axis": null}, "x2": {"datum": 24.25}}},
      {"data": {"name": "ymin"}, "mark": {"type": "rule", "color": "#000", "strokeWidth": 1.5}, "encoding": {"y": {"field": "v", "type": "quantitative", "axis": null}, "x": {"datum": 25, "type": "quantitative", "axis": null}, "x2": {"datum": 24.58}}},
      {
        "data": {"name": "lines"},
        "transform": [{"filter": "datum.p === 'L'"}],
        "mark": {"type": "line", "color": "#111", "strokeWidth": 1.4},
        "encoding": {
          "x": {"field": "r", "type": "quantitative", "scale": {"domain": [0, 25], "nice": false},
                "axis": {"orient": "bottom", "values": [0,4,8,12,16,20,24], "labelPadding": 9, "title": "r (мм)", "titlePadding": 9}},
          "y": {"field": "T", "type": "quantitative", "scale": {"domain": [-0.09, 4], "nice": false, "zero": false},
                "axis": {"orient": "left", "values": [0,1,2,3,4], "labelPadding": 7, "title": "ΔT(K)", "titlePadding": 12}},
          "strokeDash": {"field": "t", "type": "nominal", "title": "Время (с)",
                "scale": {"domain": ["0.02","0.16","0.60","0.08","0.32","1.00"], "range": [[1,0],[1.5,5],[3,2],[7,5],[8,3,2,3],[1,1]]}},
          "detail": {"field": "g"},
          "strokeWidth": {"condition": {"test": "datum.t === '1.00'", "value": 1}, "value": 1.4}
        }
      },
      {
        "data": {"name": "labels"},
        "transform": [{"filter": "datum.p === 'L'"}],
        "mark": {"type": "text", "align": "left", "baseline": "middle", "fontSize": 13, "color": "#222"},
        "encoding": {
          "x": {"field": "r", "type": "quantitative", "axis": null},
          "y": {"field": "T", "type": "quantitative", "axis": null},
          "text": {"field": "txt"}
        }
      },
      {
        "data": {"name": "edge"},
        "mark": {"type": "text", "baseline": "alphabetic", "dy": -3, "fontSize": 14, "color": "#111"},
        "encoding": {
          "x": {"field": "r", "type": "quantitative", "axis": null},
          "y": {"field": "T", "type": "quantitative", "axis": null},
          "text": {"field": "txt"}
        }
      },
      {
        "data": {"name": "edge"},
        "mark": {"type": "rule", "color": "#111", "strokeDash": [1.5, 3], "strokeWidth": 1.4},
        "encoding": {"x": {"field": "r", "type": "quantitative", "axis": null}}
      }
    ],
    "resolve": {"axis": {"x": "independent", "y": "independent"}}
  },
  {
    "width": 274, "height": 409,
    "layer": [
      {"data": {"name": "xmaj"}, "mark": {"type": "rule", "color": "#000", "strokeWidth": 1.5}, "encoding": {"x": {"field": "v", "type": "quantitative", "scale": {"domain": [0, 25], "nice": false}, "axis": null}, "y": {"datum": -0.09, "type": "quantitative", "scale": {"domain": [-0.09, 4], "nice": false, "zero": false}, "axis": null}, "y2": {"datum": -0.02}}},
      {"data": {"name": "xmin"}, "mark": {"type": "rule", "color": "#000", "strokeWidth": 1.5}, "encoding": {"x": {"field": "v", "type": "quantitative", "axis": null}, "y": {"datum": -0.09, "type": "quantitative", "axis": null}, "y2": {"datum": -0.05}}},
      {"data": {"name": "xmaj"}, "mark": {"type": "rule", "color": "#000", "strokeWidth": 1.5}, "encoding": {"x": {"field": "v", "type": "quantitative", "axis": null}, "y": {"datum": 4, "type": "quantitative", "axis": null}, "y2": {"datum": 3.93}}},
      {"data": {"name": "xmin"}, "mark": {"type": "rule", "color": "#000", "strokeWidth": 1.5}, "encoding": {"x": {"field": "v", "type": "quantitative", "axis": null}, "y": {"datum": 4, "type": "quantitative", "axis": null}, "y2": {"datum": 3.96}}},
      {"data": {"name": "ymaj"}, "mark": {"type": "rule", "color": "#000", "strokeWidth": 1.5}, "encoding": {"y": {"field": "v", "type": "quantitative", "axis": null}, "x": {"datum": 0, "type": "quantitative", "axis": null}, "x2": {"datum": 0.75}}},
      {"data": {"name": "ymin"}, "mark": {"type": "rule", "color": "#000", "strokeWidth": 1.5}, "encoding": {"y": {"field": "v", "type": "quantitative", "axis": null}, "x": {"datum": 0, "type": "quantitative", "axis": null}, "x2": {"datum": 0.42}}},
      {"data": {"name": "ymaj"}, "mark": {"type": "rule", "color": "#000", "strokeWidth": 1.5}, "encoding": {"y": {"field": "v", "type": "quantitative", "axis": null}, "x": {"datum": 25, "type": "quantitative", "axis": null}, "x2": {"datum": 24.25}}},
      {"data": {"name": "ymin"}, "mark": {"type": "rule", "color": "#000", "strokeWidth": 1.5}, "encoding": {"y": {"field": "v", "type": "quantitative", "axis": null}, "x": {"datum": 25, "type": "quantitative", "axis": null}, "x2": {"datum": 24.58}}},
      {
        "data": {"name": "lines"},
        "transform": [{"filter": "datum.p === 'R'"}],
        "mark": {"type": "line", "color": "#111", "strokeWidth": 1.4},
        "encoding": {
          "x": {"field": "r", "type": "quantitative", "scale": {"domain": [0, 25], "nice": false},
                "axis": {"orient": "bottom", "values": [0,4,8,12,16,20,24], "labelPadding": 9, "title": "r (мм)", "titlePadding": 9}},
          "y": {"field": "T", "type": "quantitative", "scale": {"domain": [-0.09, 4], "nice": false, "zero": false},
                "axis": {"orient": "right", "values": [0,1,2,3,4], "labelPadding": 6, "title": null}},
          "strokeDash": {"field": "t", "type": "nominal", "title": "Время (с)",
                "scale": {"domain": ["1.20","2.40","3.60","1.60","2.80","4.10"], "range": [[1,1],[8,3,2,3],[7,5],[3,2],[1.5,5],[1,0]]}},
          "detail": {"field": "g"},
          "strokeWidth": {"condition": {"test": "datum.t === '1.20'", "value": 1}, "value": 1.4}
        }
      },
      {
        "data": {"name": "labels"},
        "transform": [{"filter": "datum.p === 'R'"}],
        "mark": {"type": "text", "align": "left", "baseline": "middle", "fontSize": 13, "color": "#222"},
        "encoding": {
          "x": {"field": "r", "type": "quantitative", "axis": null},
          "y": {"field": "T", "type": "quantitative", "axis": null},
          "text": {"field": "txt"}
        }
      },
      {
        "data": {"name": "edge"},
        "mark": {"type": "text", "baseline": "alphabetic", "dy": -3, "fontSize": 14, "color": "#111"},
        "encoding": {
          "x": {"field": "r", "type": "quantitative", "axis": null},
          "y": {"field": "T", "type": "quantitative", "axis": null},
          "text": {"field": "txt"}
        }
      },
      {
        "data": {"name": "edge"},
        "mark": {"type": "rule", "color": "#111", "strokeDash": [1.5, 3], "strokeWidth": 1.4},
        "encoding": {"x": {"field": "r", "type": "quantitative", "axis": null}}
      }
    ],
    "resolve": {"axis": {"x": "independent", "y": "independent"}}
  }
],
"resolve": {"scale": {"strokeDash": "independent"}, "legend": {"strokeDash": "independent"}}
}
